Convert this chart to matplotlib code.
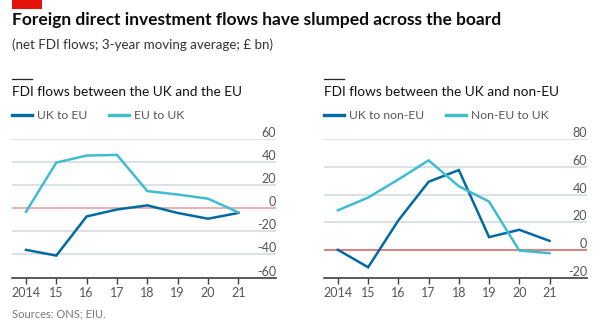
import matplotlib.pyplot as plt
import matplotlib.transforms as mtransforms
from matplotlib.patches import Rectangle
from matplotlib.lines import Line2D

plt.rcParams['font.family'] = ['Lato', 'DejaVu Sans']

years = [2014, 2015, 2016, 2017, 2018, 2019, 2020, 2021]
year_labels = ['2014', '15', '16', '17', '18', '19', '20', '21']

# EU panel
uk_to_eu = [-36, -41, -7, -1, 2.6, -4, -9, -4]
eu_to_uk = [-3, 39.7, 45.8, 46.4, 15, 12, 8.4, -3.5]
eu_ticks = [-60, -40, -20, 0, 20, 40, 60]

# non-EU panel
uk_to_noneu = [0, -12.6, 21.3, 49.2, 57.7, 9.2, 14.5, 6.5]
noneu_to_uk = [28.6, 37.8, 50.9, 64.7, 46, 34.9, -0.5, -2.4]
noneu_ticks = [-20, 0, 20, 40, 60, 80]

DARK = '#006ba2'
LIGHT = '#3ebcd2'
GRID = '#d5dbe1'
TXT = '#555555'

W, H = 600, 330
fig = plt.figure(figsize=(6, 3.3), dpi=100)
fig.patch.set_facecolor('white')


def px(x, y):
    return x / W, 1 - y / H


fig.patches.append(Rectangle(px(12, 9), 30 / W, 9 / H, transform=fig.transFigure,
                             facecolor='#e3120b', edgecolor='none'))
fig.text(*px(12, 20), 'Foreign direct investment flows have slumped across the board',
         fontsize=12.5, fontweight='bold', color='#0c0c0c', va='center', ha='left')
fig.text(*px(12, 45), '(net FDI flows; 3-year moving average; £ bn)',
         fontsize=9.6, color='#333333', va='center', ha='left')
fig.text(*px(12, 314), 'Sources: ONS; EIU.', fontsize=8, color='#777777',
         va='center', ha='left')


def panel(left, width, title, series, names, ticks, zero_color):
    ax = fig.add_axes([left / W, 1 - 277.5 / H, width / W, 138.3 / H])
    ax.set_xlim(2013.54, 2022.24)
    ax.set_ylim(ticks[0], ticks[-1])
    for sp in ['left', 'right', 'top']:
        ax.spines[sp].set_visible(False)
    ax.spines['bottom'].set_color('#404040')
    ax.spines['bottom'].set_linewidth(1.2)
    ax.set_yticks(ticks)
    ax.tick_params(axis='y', length=0, labelleft=False)
    ax.yaxis.grid(True, color=GRID, lw=1.2)
    ax.set_axisbelow(True)
    ax.set_xticks(years)
    ax.set_xticklabels(year_labels)
    ax.tick_params(axis='x', length=4, width=1, color='#404040', labelsize=9,
                   labelcolor=TXT, pad=3)
    ax.axhline(0, color=zero_color, lw=1.1, zorder=2)
    trans = mtransforms.blended_transform_factory(ax.transAxes, ax.transData)
    for t in ticks:
        ax.text(1.0, t, str(t), transform=trans, ha='right', va='bottom',
                fontsize=9, color=TXT)
    handles = []
    for vals, color, name in zip(series, [DARK, LIGHT], names):
        ax.plot(years, vals, color=color, lw=1.8, solid_joinstyle='miter',
                zorder=3, clip_on=False)
        handles.append(Line2D([], [], color=color, lw=2.4, label=name))
    # panel heading with short rule above
    fig.add_artist(Line2D([left / W, (left + 20) / W], [1 - 79 / H] * 2,
                          color='#222222', lw=0.9))
    fig.text(*px(left, 91.5), title, fontsize=9.8, color='#111111',
             va='center', ha='left')
    fig.legend(handles=handles, loc='center left', bbox_to_anchor=px(left, 115.5),
               ncol=2, frameon=False, fontsize=8.7, handlelength=1.65,
               handletextpad=0.45, columnspacing=1.75, borderpad=0,
               borderaxespad=0, labelcolor=TXT)
    return ax


panel(12, 264, 'FDI flows between the UK and the EU',
      [uk_to_eu, eu_to_uk], ['UK to EU', 'EU to UK'], eu_ticks, '#eda3a3')
panel(324, 263, 'FDI flows between the UK and non-EU',
      [uk_to_noneu, noneu_to_uk], ['UK to non-EU', 'Non-EU to UK'], noneu_ticks, '#e06464')

fig.savefig('out.png', dpi=100, facecolor='white')
